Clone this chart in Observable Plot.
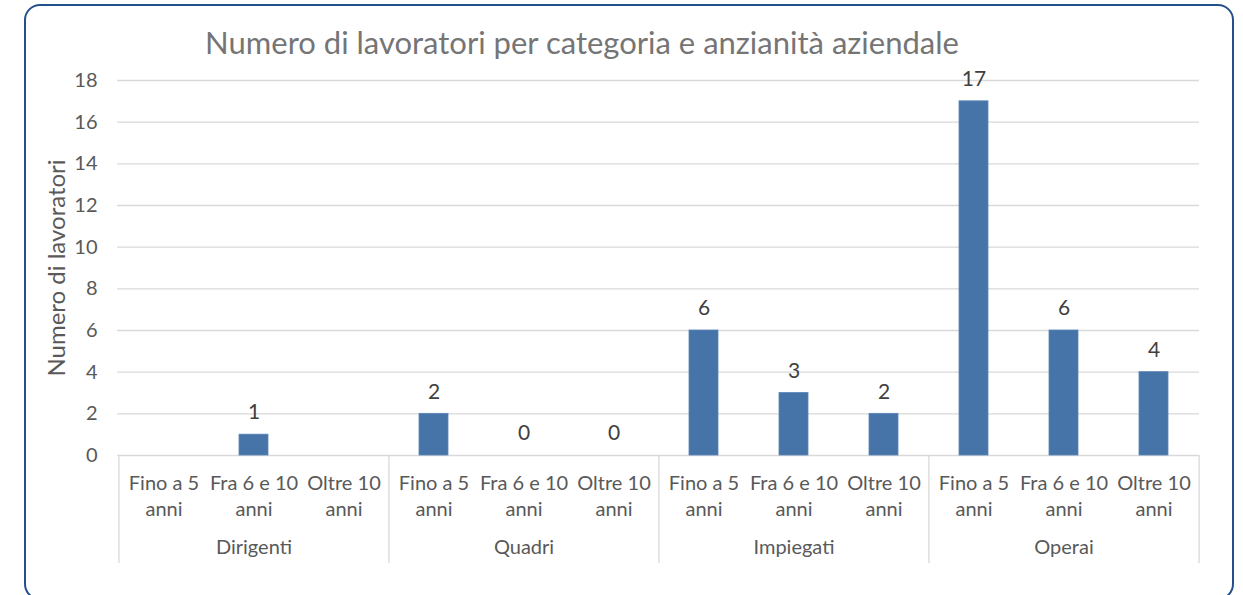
<!DOCTYPE html>
<html>
<head>
<meta charset="utf-8">
<script src="https://cdn.jsdelivr.net/npm/d3@7"></script>
<script src="https://cdn.jsdelivr.net/npm/@observablehq/plot@0.6"></script>
<style>
  html, body { margin: 0; padding: 0; background: #fff; overflow: hidden; }
  #wrap { position: relative; width: 1243px; height: 595px; font-family: Lato, "Open Sans", sans-serif; overflow: hidden; }
  #frame { position: absolute; left: 24px; top: 4px; width: 1210px; height: 596px;
           border: 2.5px solid #24508c; border-radius: 16px; box-sizing: border-box; }
  #title { position: absolute; left: 0; top: 23px; width: 1164px; text-align: center;
           font-size: 31px; color: #757575; white-space: nowrap; }
  #chart { position: absolute; left: 0; top: 0; }
</style>
</head>
<body>
<div id="wrap">
  <div id="frame"></div>
  <div id="chart"></div>
  <div id="title">Numero di lavoratori per categoria e anzianità aziendale</div>
</div>
<script>
const categories = ["Dirigenti", "Quadri", "Impiegati", "Operai"];
const seniority = ["Fino a 5 anni", "Fra 6 e 10 anni", "Oltre 10 anni"];
const seniorityLabels = ["Fino a 5\nanni", "Fra 6 e 10\nanni", "Oltre 10\nanni"];
const dirigenti = [null, 1, null];
const quadri = [2, 0, 0];
const impiegati = [6, 3, 2];
const operai = [17, 6, 4];
const yTicks = [0, 2, 4, 6, 8, 10, 12, 14, 16, 18];
const yLabel = "Numero di lavoratori";

const seriesByCat = [dirigenti, quadri, impiegati, operai];
const rows = [];
categories.forEach((c, ci) => seniority.forEach((s, si) => {
  rows.push({key: c + "|" + s, cat: c, sub: si, value: seriesByCat[ci][si]});
}));
const keys = rows.map(d => d.key);
const labelOf = new Map(rows.map(d => [d.key, seniorityLabels[d.sub]]));

const W = 1243, H = 595, mL = 117, mR = 44, mT = 80, mB = 140;
const step = (W - mL - mR) / keys.length;
const separators = categories.map(c => ({key: c + "|" + seniority[0], dx: -step / 2}))
  .concat([{key: keys[keys.length - 1], dx: step / 2}]);
const groupLabels = categories.map(c => ({key: c + "|" + seniority[1], cat: c}));

const font = "Lato, 'Open Sans', sans-serif";
const plot = Plot.plot({
  width: W, height: H,
  marginLeft: mL, marginRight: mR, marginTop: mT, marginBottom: mB,
  style: {fontFamily: font, fontSize: "20px", color: "#595959", background: "transparent"},
  x: {type: "band", domain: keys, paddingInner: 0.68, paddingOuter: 0.34, align: 0.5},
  y: {domain: [0, 18], ticks: yTicks},
  marks: [
    Plot.gridY(yTicks, {stroke: "#d9d9d9", strokeOpacity: 1, strokeWidth: 1.3}),
    Plot.axisY(yTicks, {tickSize: 0, tickPadding: 20, fontSize: 20, fill: "#595959", label: null}),
    Plot.text([yLabel], {text: d => d, frameAnchor: "left", textAnchor: "middle", rotate: -90, dx: -60, fontSize: 24, fill: "#595959"}),
    ...separators.map(s => Plot.ruleX([s], {x: "key", dx: s.dx, stroke: "#d9d9d9", strokeWidth: 1.3, insetTop: H - mT - mB, insetBottom: -108})),
    Plot.barY(rows.filter(d => d.value != null), {x: "key", y: "value", fill: "#4673a8", stroke: "#5b86b8", strokeWidth: 0.8}),
    Plot.axisX({tickSize: 0, tickPadding: 16, tickFormat: d => labelOf.get(d), fontSize: 20, fill: "#595959", label: null, lineHeight: 1.3}),
    Plot.text(groupLabels, {x: "key", text: "cat", frameAnchor: "bottom", dy: 98, fontSize: 20, fill: "#595959"}),
    Plot.text(rows.filter(d => d.value != null), {x: "key", y: "value", text: d => String(d.value), dy: -22, fontSize: 21, fill: "#404040"})
  ]
});
document.getElementById("chart").appendChild(plot);
</script>
</body>
</html>
